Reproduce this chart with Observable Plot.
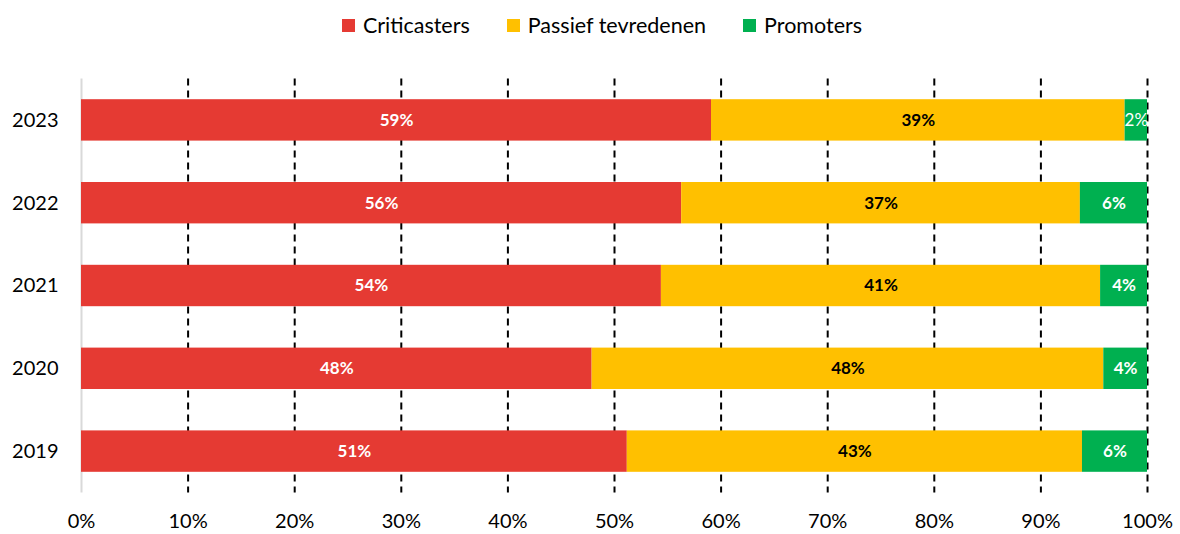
<!DOCTYPE html>
<html>
<head>
<meta charset="utf-8">
<script src="https://cdn.jsdelivr.net/npm/d3@7"></script>
<script src="https://cdn.jsdelivr.net/npm/@observablehq/plot@0.6"></script>
<style>
  html, body { margin: 0; padding: 0; background: #fff; }
  body { width: 1180px; height: 534px; overflow: hidden; font-family: Lato, "Open Sans", sans-serif; }
  #legend { height: 50px; display: flex; justify-content: center; align-items: center; gap: 37px; padding-left: 24px; box-sizing: border-box; font-size: 21.5px; color: #000; }
  #legend .item { display: flex; align-items: center; gap: 8px; }
  #legend .sw { width: 13px; height: 13px; display: inline-block; }
</style>
</head>
<body>
<div id="legend"></div>
<div id="chart"></div>
<script>
const years = ["2023", "2022", "2021", "2020", "2019"];
const categories = ["Criticasters", "Passief tevredenen", "Promoters"];
const colors = ["#E53A33", "#FFC000", "#00B050"];
const criticasters = [59.1, 56.3, 54.4, 47.9, 51.2];
const passief = [38.8, 37.4, 41.2, 48.0, 42.7];
const promoters = [2.1, 6.3, 4.4, 4.1, 6.1];
const xTicks = [0, 10, 20, 30, 40, 50, 60, 70, 80, 90, 100];
const gridTicks = [10, 20, 30, 40, 50, 60, 70, 80, 90, 100];

const series = [criticasters, passief, promoters];
const rows = [];
years.forEach((y, i) => {
  let acc = 0;
  series.forEach((s, k) => {
    const v = s[i];
    rows.push({year: y, cat: categories[k], value: v, x1: acc, x2: acc + v, mid: acc + v / 2, label: Math.round(v) + "%"});
    acc += v;
  });
});

// legend
const leg = document.getElementById("legend");
categories.forEach((c, i) => {
  const it = document.createElement("span");
  it.className = "item";
  it.innerHTML = `<span class="sw" style="background:${colors[i]}"></span><span>${c}</span>`;
  leg.appendChild(it);
});

const font = "Lato, 'Open Sans', sans-serif";
const chart = Plot.plot({
  width: 1180,
  height: 484,
  marginLeft: 81,
  marginRight: 33,
  marginTop: 28.5,
  marginBottom: 41.5,
  style: {fontFamily: font, fontSize: "20px", color: "#000", background: "#fff"},
  x: {domain: [0, 100], ticks: xTicks, tickFormat: d => d + "%", tickSize: 0, tickPadding: 21, label: null},
  y: {domain: years, paddingInner: 0.5, paddingOuter: 0.25, round: false, tickSize: 0, tickPadding: 23, label: null},
  color: {domain: categories, range: colors},
  marks: [
    Plot.ruleX(gridTicks, {stroke: "#000", strokeWidth: 2, strokeDasharray: "7,5"}),
    Plot.ruleX([0], {stroke: "#d9d9d9", strokeWidth: 2}),
    Plot.barX(rows, {x1: "x1", x2: "x2", y: "year", fill: "cat"}),
    Plot.text(rows.filter(d => d.cat === categories[0]), {x: "mid", y: "year", text: "label", fill: "#fff", fontWeight: "bold", fontSize: 17}),
    Plot.text(rows.filter(d => d.cat === categories[1]), {x: "mid", y: "year", text: "label", fill: "#000", fontWeight: "bold", fontSize: 17}),
    Plot.text(rows.filter(d => d.cat === categories[2] && d.value >= 3), {x: "mid", y: "year", text: "label", fill: "#fff", fontWeight: "bold", fontSize: 17}),
    Plot.text(rows.filter(d => d.cat === categories[2] && d.value < 3), {x: "mid", y: "year", text: "label", fill: "#fff", fontWeight: "normal", fontSize: 17})
  ]
});
document.getElementById("chart").appendChild(chart);
</script>
</body>
</html>
